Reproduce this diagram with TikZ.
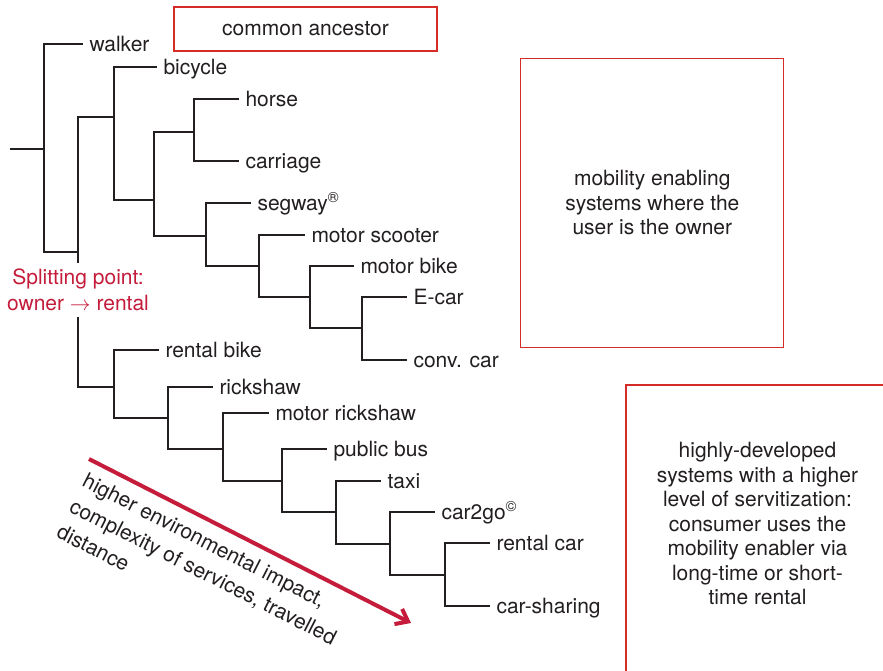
\documentclass[tikz,border=0pt]{standalone}
\usepackage{fontspec}
\setmainfont{TeX Gyre Heros}
\usetikzlibrary{arrows.meta}
\definecolor{ink}{RGB}{35,31,32}
\definecolor{boxred}{RGB}{212,45,40}
\definecolor{crimson}{RGB}{196,28,58}
\begin{document}
\begin{tikzpicture}[x=1pt,y=-1pt,
  branch/.style={draw=ink,line width=1.3pt},
  leaf/.style={anchor=west,inner xsep=6.5pt,inner ysep=0pt,outer sep=0pt,
    text height=15pt,text depth=0pt,font=\fontsize{21}{25}\selectfont,text=ink},
  redbox/.style={draw=boxred,line width=1.3pt,align=center,
    font=\fontsize{21}{24.5}\selectfont,text=ink,minimum width=263pt,inner sep=0pt},
  splitlabel/.style={fill=white,text=crimson,align=center,inner xsep=0pt,inner ysep=6.5pt,
    font=\fontsize{21}{25.5}\selectfont},
  notelabel/.style={rotate=-27,anchor=north west,align=left,inner sep=0pt,
    font=\fontsize{21}{28.5}\selectfont,text=ink},
  trend/.style={draw=crimson,line width=4pt,-{Straight Barb[length=11pt,width=17pt]}}
]
\path[use as bounding box,fill=white] (0,0) rectangle (883,671);

% internal nodes of the tree
\coordinate (S) at (10,149);
\coordinate (R) at (44,149);
\coordinate (A) at (78,252);
\coordinate (B) at (114,117);
\coordinate (C) at (154,200);
\coordinate (D) at (194,132);
\coordinate (E) at (206,236);
\coordinate (F) at (259,266);
\coordinate (G) at (310,297);
\coordinate (H) at (362,328);
\coordinate (I) at (114,387);
\coordinate (J) at (168,418);
\coordinate (K) at (223,449);
\coordinate (L) at (282,481);
\coordinate (M) at (336,512);
\coordinate (N) at (390,544);
\coordinate (O) at (445,575);

% leaves
\node[leaf] (walker) at (83,44) {walker};
\node[leaf] (bicycle) at (157,67) {bicycle};
\node[leaf] (horse) at (239,99) {horse};
\node[leaf] (carriage) at (239,161) {carriage};
\node[leaf] (segway) at (251,203) {segway\textsuperscript{®}};
\node[leaf] (scooter) at (305,235) {motor scooter};
\node[leaf] (mbike) at (354,266) {motor bike};
\node[leaf] (ecar) at (407,297) {E-car};
\node[leaf] (convcar) at (407,360) {conv. car};
\node[leaf] (rbike) at (159,350) {rental bike};
\node[leaf] (rickshaw) at (213,387) {rickshaw};
\node[leaf] (mrickshaw) at (269,413) {motor rickshaw};
\node[leaf] (bus) at (327,449) {public bus};
\node[leaf] (taxi) at (381,481) {taxi};
\node[leaf] (cartogo) at (435,512) {car2go\textsuperscript{©}};
\node[leaf] (rcar) at (490,543) {rental car};
\node[leaf] (csharing) at (490,606) {car-sharing};

% branches
\draw[branch] (S) -- (R);
\draw[branch] (R) |- (walker);
\draw[branch] (R) |- (A);
\draw[branch] (A) |- (B);
\draw[branch] (A) |- (I);
\draw[branch] (B) |- (bicycle);
\draw[branch] (B) |- (C);
\draw[branch] (C) |- (D);
\draw[branch] (C) |- (E);
\draw[branch] (D) |- (horse);
\draw[branch] (D) |- (carriage);
\draw[branch] (E) |- (segway);
\draw[branch] (E) |- (F);
\draw[branch] (F) |- (scooter);
\draw[branch] (F) |- (G);
\draw[branch] (G) |- (mbike);
\draw[branch] (G) |- (H);
\draw[branch] (H) |- (ecar);
\draw[branch] (H) |- (convcar);
\draw[branch] (I) |- (rbike);
\draw[branch] (I) |- (J);
\draw[branch] (J) |- (rickshaw);
\draw[branch] (J) |- (K);
\draw[branch] (K) |- (mrickshaw);
\draw[branch] (K) |- (L);
\draw[branch] (L) |- (bus);
\draw[branch] (L) |- (M);
\draw[branch] (M) |- (taxi);
\draw[branch] (M) |- (N);
\draw[branch] (N) |- (cartogo);
\draw[branch] (N) |- (O);
\draw[branch] (O) |- (rcar);
\draw[branch] (O) |- (csharing);

% splitting point label
\node[splitlabel] (split) at (78,290) {Splitting point:\\owner $\rightarrow$ rental};

% boxes
\node[redbox,minimum height=44pt] (ancestor) at (305.5,29) {common ancestor};
\node[redbox,minimum height=289pt] (owner) at (652.3,202.8)
  {mobility enabling\\systems where the\\user is the owner};
\node[redbox,minimum height=289pt] (rental) at (757.5,529.5)
  {highly-developed\\systems with a higher\\level of servitization:\\consumer uses the\\mobility enabler via\\long-time or short-\\time rental\\[-12.5pt]\mbox{}};

% trend arrow and note
\coordinate (aS) at (89,459);
\coordinate (aE) at (411,623);
\draw[trend] (aS) -- (aE);
\node[notelabel] (note) at (88,472)
  {higher environmental impact,\\complexity of services, travelled\\distance};
\end{tikzpicture}
\end{document}
